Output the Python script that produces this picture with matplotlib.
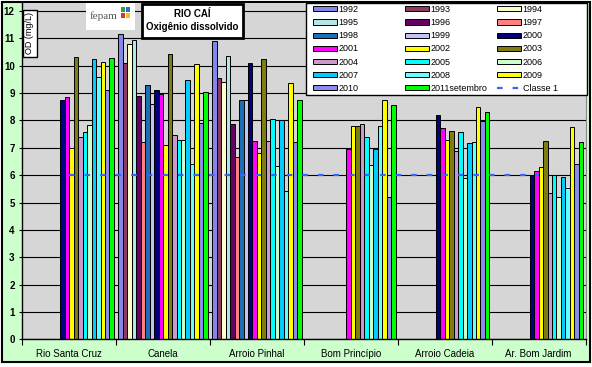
import matplotlib
matplotlib.use('Agg')
import matplotlib.pyplot as plt
import numpy as np
from matplotlib.patches import Rectangle

plt.rcParams['font.family'] = ['Liberation Sans', 'DejaVu Sans']

# stations along the river
stations = ['Rio Santa Cruz', 'Canela', 'Arroio Pinhal', 'Bom Princípio',
            'Arroio Cadeia', 'Ar. Bom Jardim']
years = ['1992', '1993', '1994', '1995', '1996', '1997', '1998', '1999',
         '2000', '2001', '2002', '2003', '2004', '2005', '2006', '2007',
         '2008', '2009', '2010', '2011setembro']

# OD (mg/L) per station, one value per year (None = no sample)
rio_santa_cruz = [None, None, None, None, None, None, None, None,
                  8.73, 8.84, 7.01, 10.33, 7.40, 7.59, 7.85, 10.23,
                  9.60, 10.15, 9.10, 10.30]
canela = [11.17, 10.11, 10.80, 10.93, 8.91, 7.20, 9.30, 8.59,
          9.12, 8.98, 7.12, 10.41, 7.45, 7.27, 7.30, 9.46,
          6.39, 10.05, 7.89, 9.05]
arroio_pinhal = [10.90, 9.55, 9.39, 10.34, 7.87, 6.68, 8.73, 8.73,
                 10.09, 7.23, 6.80, 10.23, 7.23, 8.07, 6.33, 8.00,
                 5.41, 9.35, 7.21, 8.73]
bom_principio = [None, None, None, None, None, None, None, None,
                 None, 6.95, 7.79, 7.79, 7.86, 7.41, 6.37, 6.95,
                 7.79, 8.74, 5.20, 8.56]
arroio_cadeia = [None, None, None, None, None, None, None, None,
                 8.21, 7.71, 7.28, 7.61, 6.88, 7.56, 5.89, 7.18,
                 7.21, 8.49, 7.99, 8.30]
ar_bom_jardim = [None, None, None, None, None, None, None, None,
                 6.00, 6.15, 6.29, 7.24, 5.34, 6.00, 5.20, 5.93,
                 5.52, 7.76, 6.40, 7.21]

# reference line (Classe 1)
classe_1 = [6, 6, 6, 6, 6, 6]

colors = ['#8585ee', '#8e3a62', '#ffffcc', '#b3e6e6', '#660066', '#ff8080',
          '#1a70b8', '#c4c4f4', '#000080', '#ff00ff', '#ffff00', '#7d7d14',
          '#cc99cc', '#00ffff', '#ccffcc', '#00ccff', '#66ffff', '#ffff00',
          '#8c8cf0', '#00ff00']

W, H = 592, 367


def fx(px):
    return px / W


def fy(py):
    return 1 - py / H


fig = plt.figure(figsize=(W / 100, H / 100), dpi=100)
fig.patch.set_facecolor('white')

# green chart area with black frame
fig.add_artist(Rectangle((fx(2), fy(362)), fx(590) - fx(2), fy(2) - fy(362),
                         transform=fig.transFigure, facecolor='#ccffcc',
                         edgecolor='black', linewidth=1.5, zorder=-1))

ax_left, ax_right, ax_top, ax_bottom = 22.3, 585.5, 3, 339.3
ax = fig.add_axes([fx(ax_left), fy(ax_bottom), fx(ax_right) - fx(ax_left),
                   fy(ax_top) - fy(ax_bottom)])
ax.set_facecolor('#d6d6d6')


def axx(px):
    return (px - ax_left) / (ax_right - ax_left)


def axy(py):
    return (ax_bottom - py) / (ax_bottom - ax_top)


table = np.array([rio_santa_cruz, canela, arroio_pinhal, bom_principio,
                  arroio_cadeia, ar_bom_jardim], dtype=float)

n = len(years)
w = 1 / (n + 1)
x = np.arange(len(stations))
handles = []
for j, (yr, col) in enumerate(zip(years, colors)):
    bars = ax.bar(x + (j - (n - 1) / 2) * w, table[:, j], width=w, color=col,
                  edgecolor='black', linewidth=0.7, zorder=2, label=yr)
    handles.append(bars)

line, = ax.plot(x, classe_1, color='#3366ff', lw=1.6,
                linestyle=(0, (2.5, 4.5)), zorder=3, label='Classe 1')
handles.append(line)

# axes layout
ax.set_xlim(-0.5, len(stations) - 0.5)
ax.set_ylim(0, 12 + 8 / 27.36)
ax.set_yticks(range(13))
ax.yaxis.grid(True, color='black', lw=0.8)
ax.set_axisbelow(True)
ax.set_xticks(x)
ax.set_xticklabels(stations, fontsize=7)
ax.set_xticks(np.arange(-0.5, len(stations)), minor=True)
ax.tick_params(axis='x', which='major', length=0, pad=7)
ax.tick_params(axis='x', which='minor', length=4, width=0.8, color='black')
ax.tick_params(axis='y', length=2.5, width=0.8, pad=3, labelsize=7)
for lab in ax.get_yticklabels():
    lab.set_fontweight('bold')
ax.spines['top'].set_visible(False)
ax.spines['right'].set_color('#888888')
ax.spines['left'].set_linewidth(1)
ax.spines['bottom'].set_linewidth(1)

# legend: white box, three equal columns filled row by row
labels = years + ['Classe 1']
ax.add_patch(Rectangle((axx(306), axy(95)), axx(587) - axx(306),
                       axy(3) - axy(95), transform=ax.transAxes,
                       facecolor='white', edgecolor='black', linewidth=1,
                       zorder=9, clip_on=False))
col_x = [313, 405, 497]
legends = []
for c in range(3):
    idx = list(range(c, len(labels), 3))
    leg = ax.legend([handles[k] for k in idx], [labels[k] for k in idx],
                    loc='upper left', bbox_to_anchor=(axx(col_x[c]), axy(5)),
                    fontsize=6.5, handlelength=2.7, handleheight=0.5,
                    handletextpad=0.15, labelspacing=0.46, borderpad=0,
                    borderaxespad=0, frameon=False)
    leg.set_zorder(10)
    legends.append(leg)
for leg in legends[:-1]:
    ax.add_artist(leg)

# title box
fig.add_artist(Rectangle((fx(142), fy(38)), fx(243) - fx(142),
                         fy(4) - fy(38), transform=fig.transFigure,
                         facecolor='white', edgecolor='black', linewidth=2,
                         zorder=5))
fig.text(fx(192.5), fy(14), 'RIO CAÍ', ha='center', va='center',
         fontsize=7, fontweight='bold', zorder=6)
fig.text(fx(192.5), fy(26.5), 'Oxigênio dissolvido', ha='center',
         va='center', fontsize=7, fontweight='bold', zorder=6)

# logo
fig.add_artist(Rectangle((fx(86), fy(30)), fx(135) - fx(86), fy(3) - fy(30),
                         transform=fig.transFigure, facecolor='white',
                         edgecolor='none', zorder=5))
fig.text(fx(104), fy(16), 'fepam', ha='center', va='center', fontsize=8,
         family='Liberation Serif', color='#555555', zorder=6)
for k, c in enumerate(['#e03030', '#f0c020', '#30a040', '#3070c0']):
    fig.add_artist(Rectangle((fx(121 + (k % 2) * 5), fy(18 - (k // 2) * 6)),
                             fx(4), 5 / H, transform=fig.transFigure,
                             facecolor=c, edgecolor='none', zorder=6))

# y label box
fig.add_artist(Rectangle((fx(22.7), fy(57)), fx(14), fy(10) - fy(57),
                         transform=fig.transFigure, facecolor='white',
                         edgecolor='black', linewidth=1, zorder=5))
fig.text(fx(29.7), fy(33.5), 'OD (mg/L)', rotation=90, ha='center',
         va='center', fontsize=6.5, zorder=6)

fig.savefig('out.png', dpi=100)
